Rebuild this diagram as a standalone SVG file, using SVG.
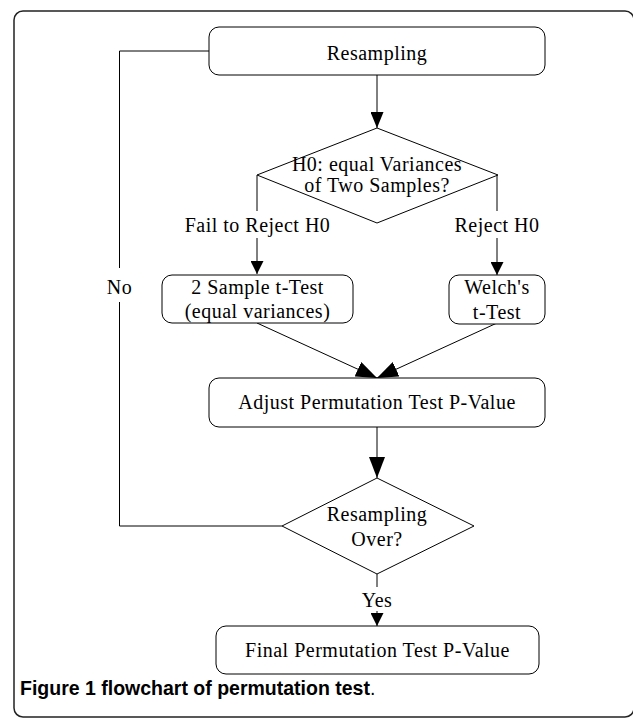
<svg xmlns="http://www.w3.org/2000/svg" width="633" height="718" viewBox="0 0 633 718">
<style>
.node{fill:#fff;stroke:#000;stroke-width:1}
.t{font-family:"Liberation Serif","Times New Roman",serif;font-size:20px;letter-spacing:0.5px;fill:#000;text-anchor:middle}
.c{fill:none;stroke:#000;stroke-width:1}
.cap{font-family:"Liberation Sans",Arial,sans-serif;font-size:19.5px;font-weight:bold;fill:#000}
</style>
<defs>
<marker id="am" markerUnits="userSpaceOnUse" markerWidth="16" markerHeight="13" refX="16" refY="6.5" orient="auto"><path d="M0,0 L16,6.5 L0,13 z" fill="#000"/></marker>
<marker id="al" markerUnits="userSpaceOnUse" markerWidth="21" markerHeight="16" refX="21" refY="8" orient="auto"><path d="M0,0 L21,8 L0,16 z" fill="#000"/></marker>
<marker id="as" markerUnits="userSpaceOnUse" markerWidth="13" markerHeight="13" refX="13" refY="6.5" orient="auto"><path d="M0,0 L13,6.5 L0,13 z" fill="#000"/></marker>
</defs>
<rect x="14" y="11" width="620" height="706" rx="9" fill="#fff" stroke="#222" stroke-width="1.5"/>
<g id="connectors">
<path class="c" d="M377,75 V128" marker-end="url(#am)"/>
<path class="c" d="M257,175 V211"/>
<path class="c" d="M257,238 V274" marker-end="url(#as)"/>
<path class="c" d="M497,175 V211"/>
<path class="c" d="M497,238 V275" marker-end="url(#as)"/>
<path class="c" d="M257,323 L377,378" marker-end="url(#al)"/>
<path class="c" d="M497,323 L377,378" marker-end="url(#al)"/>
<path class="c" d="M377,427 V478" marker-end="url(#al)"/>
<path class="c" d="M377,574 V587"/>
<path class="c" d="M377,611 V626" marker-end="url(#as)"/>
<path class="c" d="M209,51 H119.5 V268"/>
<path class="c" d="M119.5,302 V526 H282"/>
<text class="t" x="257.5" y="232">Fail to Reject H0</text>
<text class="t" x="497" y="232">Reject H0</text>
<text class="t" x="119.5" y="294">No</text>
<text class="t" x="377" y="607">Yes</text>
</g>
<g id="resampling">
<rect class="node" x="209" y="27" width="336" height="48" rx="10"/>
<text class="t" x="377" y="60">Resampling</text>
</g>
<g id="h0">
<path class="node" d="M377,128 L498,175 L377,223 L257,175 Z"/>
<text class="t" x="377" y="171">H0: equal Variances</text>
<text class="t" x="377" y="192">of Two Samples?</text>
</g>
<g id="ttest">
<rect class="node" x="162" y="275" width="191" height="48" rx="10"/>
<text class="t" x="257.5" y="294">2 Sample t-Test</text>
<text class="t" x="257.5" y="318">(equal variances)</text>
</g>
<g id="welch">
<rect class="node" x="449" y="275" width="96" height="49" rx="10"/>
<text class="t" x="497" y="294">Welch's</text>
<text class="t" x="497" y="319">t-Test</text>
</g>
<g id="adjust">
<rect class="node" x="209" y="378" width="336" height="49" rx="10"/>
<text class="t" x="377" y="409">Adjust Permutation Test P-Value</text>
</g>
<g id="over">
<path class="node" d="M377,478 L474,526 L377,574 L282,526 Z"/>
<text class="t" x="377" y="521">Resampling</text>
<text class="t" x="377" y="546">Over?</text>
</g>
<g id="final">
<rect class="node" x="216" y="626" width="323" height="48" rx="10"/>
<text class="t" x="377.5" y="657">Final Permutation Test P-Value</text>
</g>
<text class="cap" x="20" y="695">Figure 1 flowchart of permutation test<tspan font-weight="normal">.</tspan></text>
</svg>
